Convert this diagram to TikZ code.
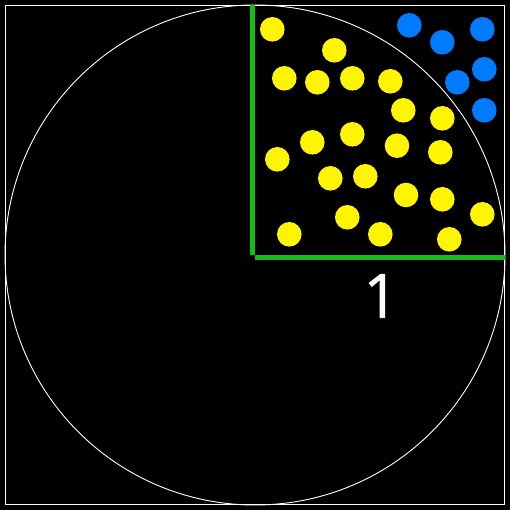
\documentclass[tikz,border=0pt]{standalone}
\usepackage{fontspec}
\setmainfont{Open Sans}
\newfontfamily\labelfont[FakeBold=1.2]{Open Sans}
\definecolor{dotyellow}{RGB}{255,245,0}
\definecolor{dotblue}{RGB}{0,122,255}
\definecolor{axisgreen}{RGB}{20,190,20}
\begin{document}
\begin{tikzpicture}[x=1pt,y=-1pt,
  ydot/.style={fill=dotyellow,draw=none},
  bdot/.style={fill=dotblue,draw=none},
  axis/.style={draw=axisgreen,line width=4.6pt}]
\fill[black] (0,0) rectangle (510,510);
\useasboundingbox (0,0) rectangle (510,510);
\draw[white,line width=1pt] (5.5,5.5) rectangle (504.5,504.5);
\coordinate (O) at (255,255);
\draw[white,line width=0.9pt] (O) circle[radius=250];
\coordinate (vtop) at (252.3,5);
\coordinate (vbot) at (252.3,255);
\coordinate (hl) at (255,257.3);
\coordinate (hr) at (505,257.3);
\draw[axis] (vtop) -- (vbot);
\draw[axis] (hl) -- (hr);
\foreach \x/\y in {272.3/29.3,334.3/50.3,284.3/78.3,317.3/82.3,352.3/78.3,390.3/81.3,403.3/110.3,442.3/118.3,
  312.3/142.3,352.3/134.3,277.3/159.3,397/145.7,440.3/152.3,330.3/178.3,365.3/176.3,406/195,442.3/199.3,
  482.3/214.3,347.3/217.3,289.3/234.3,380.3/234.3,449.3/239.3}
  \fill[ydot] (\x,\y) circle[radius=12.3];
\foreach \x/\y in {409.3/25.3,442.3/42.3,482.3/29.3,484.3/69.3,457.3/82.3,484.3/110.3}
  \fill[bdot] (\x,\y) circle[radius=12.3];
\node[white,anchor=base,inner sep=0pt,font=\fontsize{61}{61}\selectfont\labelfont] (one) at (381,317.7) {1};
\end{tikzpicture}
\end{document}
